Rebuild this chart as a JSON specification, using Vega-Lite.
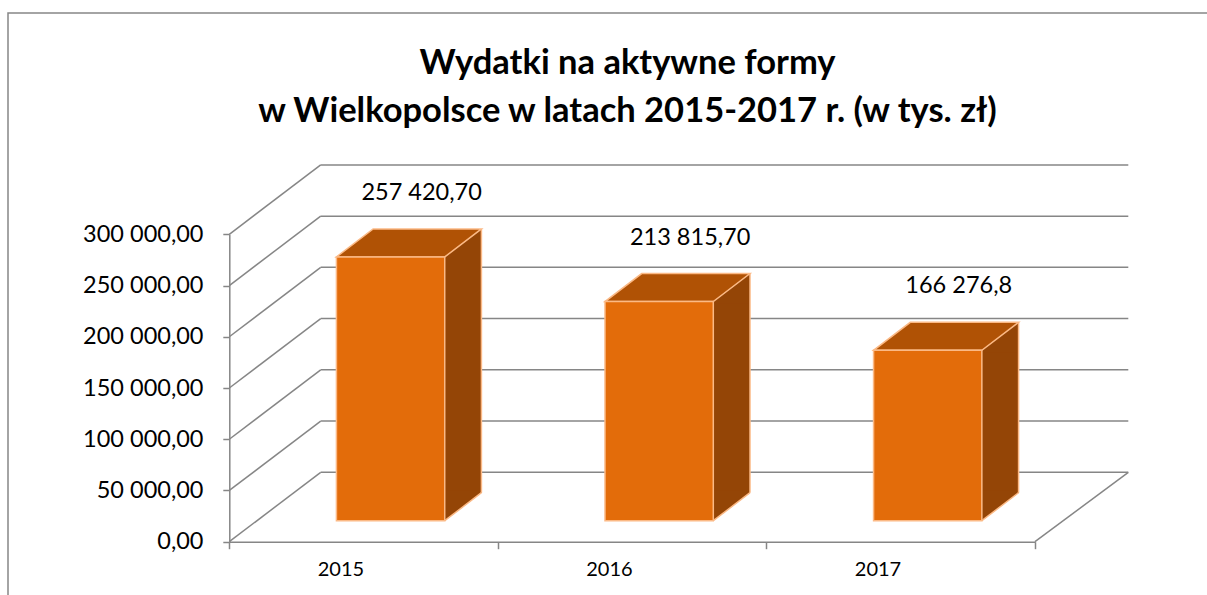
{
  "$schema": "https://vega.github.io/schema/vega-lite/v6.json",
  "width": 1215,
  "height": 600,
  "autosize": {"type": "none"},
  "padding": {"left": 8, "top": 13, "right": -16, "bottom": -18},
  "background": "white",
  "config": {"view": {"stroke": "#868686", "strokeWidth": 1.5}, "font": "Lato"},
  "title": {
    "text": ["Wydatki na aktywne formy", "w Wielkopolsce w latach 2015-2017 r. (w tys. zł)"],
    "font": "Lato", "fontSize": 34.5, "fontWeight": "bold", "color": "#000000",
    "anchor": "middle", "frame": "group", "lineHeight": 48, "offset": -116, "dx": 12
  },
  "data": {"values": [
    {"year": "2015", "value": 257420.7, "label": "257 420,70"},
    {"year": "2016", "value": 213815.7, "label": "213 815,70"},
    {"year": "2017", "value": 166276.8, "label": "166 276,8"}
  ]},
  "layer": [
    {
      "data": {"values": [{"v": 0}, {"v": 50000}, {"v": 100000}, {"v": 150000}, {"v": 200000}, {"v": 250000}, {"v": 300000}]},
      "mark": {"type": "rule", "color": "#868686", "strokeWidth": 1.5, "xOffset": 91.4, "x2Offset": 93.3, "yOffset": -69.4},
      "encoding": {
        "x": {"datum": "2015", "type": "nominal", "bandPosition": 0},
        "x2": {"datum": "2017", "bandPosition": 1},
        "y": {"field": "v", "type": "quantitative", "title": null}
      }
    },
    {
      "data": {"values": [{"v": 0}, {"v": 50000}, {"v": 100000}, {"v": 150000}, {"v": 200000}, {"v": 250000}, {"v": 300000}]},
      "mark": {"type": "rule", "color": "#868686", "strokeWidth": 1.5, "x2Offset": 91.4, "y2Offset": -69.4},
      "encoding": {
        "x": {"datum": "2015", "type": "nominal", "bandPosition": 0},
        "x2": {"datum": "2015", "bandPosition": 0},
        "y": {"field": "v", "type": "quantitative", "title": null},
        "y2": {"field": "v"}
      }
    },
    {
      "data": {"values": [{"edge": "right"}]},
      "mark": {"type": "rule", "color": "#868686", "strokeWidth": 1.5, "x2Offset": 93.3, "y2Offset": -69.4},
      "encoding": {
        "x": {"datum": "2017", "type": "nominal", "bandPosition": 1},
        "x2": {"datum": "2017", "bandPosition": 1},
        "y": {"datum": 0, "type": "quantitative"},
        "y2": {"datum": 0}
      }
    },
    {
      "mark": {"type": "bar", "width": 36.7, "xOffset": 99.5, "yOffset": -21, "y2Offset": -49, "color": "#944506"},
      "encoding": {
        "x": {"field": "year", "type": "nominal", "title": null},
        "y": {"field": "value", "type": "quantitative", "title": null},
        "y2": {"datum": 0}
      }
    },
    {
      "mark": {"type": "point", "shape": "M81.15,-21L117.85,-49L117.85,-19L81.15,-19Z", "size": 4, "filled": true, "fill": "#944506", "strokeWidth": 0, "opacity": 1},
      "encoding": {
        "x": {"field": "year", "type": "nominal", "title": null},
        "y": {"field": "value", "type": "quantitative", "title": null}
      }
    },
    {
      "mark": {"type": "point", "shape": "M81.15,-51L117.85,-51L117.85,-49L81.15,-21Z", "size": 4, "filled": true, "fill": "#944506", "strokeWidth": 0, "opacity": 1},
      "encoding": {
        "x": {"field": "year", "type": "nominal", "title": null},
        "y": {"datum": 0, "type": "quantitative"}
      }
    },
    {
      "mark": {"type": "rule", "color": "#FBB985", "strokeWidth": 1.5, "xOffset": 117.85, "x2Offset": 117.85, "yOffset": -49, "y2Offset": -49},
      "encoding": {
        "x": {"field": "year", "type": "nominal", "bandPosition": 0.5, "title": null},
        "x2": {"field": "year", "bandPosition": 0.5},
        "y": {"field": "value", "type": "quantitative", "title": null},
        "y2": {"datum": 0}
      }
    },
    {
      "mark": {"type": "rule", "color": "#FBB985", "strokeWidth": 1.5, "xOffset": 81.15, "x2Offset": 117.85, "yOffset": -21, "y2Offset": -49},
      "encoding": {
        "x": {"field": "year", "type": "nominal", "bandPosition": 0.5, "title": null},
        "x2": {"field": "year", "bandPosition": 0.5},
        "y": {"datum": 0, "type": "quantitative"},
        "y2": {"datum": 0}
      }
    },
    {
      "mark": {"type": "point", "shape": "M-27.15,-21L81.15,-21L117.85,-49L9.55,-49Z", "size": 4, "filled": true, "fill": "#B05205", "stroke": "#FBB985", "strokeWidth": 1.5, "opacity": 1},
      "encoding": {
        "x": {"field": "year", "type": "nominal", "title": null},
        "y": {"field": "value", "type": "quantitative", "title": null}
      }
    },
    {
      "mark": {"type": "bar", "width": 108.3, "xOffset": 27, "yOffset": -21, "y2Offset": -21, "color": "#E36C0A", "stroke": "#FBB985", "strokeWidth": 1.5},
      "encoding": {
        "x": {
          "field": "year", "type": "nominal",
          "scale": {"type": "band", "range": [221.3, 1027], "paddingInner": 0, "paddingOuter": 0},
          "axis": {"title": null, "labelAngle": 0, "tickBand": "extent", "tickSize": 7, "tickColor": "#868686", "tickWidth": 1.5, "domainColor": "#868686", "domainWidth": 1.5, "labelFont": "Lato", "labelFontSize": 20, "labelColor": "#000000", "labelPadding": 21, "labelBaseline": "middle", "offset": -71.3, "grid": false}
        },
        "y": {
          "field": "value", "type": "quantitative",
          "scale": {"domain": [0, 300000], "range": [528.7, 221.3], "nice": false, "zero": true},
          "axis": {"title": null, "values": [0, 50000, 100000, 150000, 200000, 250000, 300000], "labelExpr": "replace(replace(format(datum.value, ',.2f'), ',', ' '), '.', ',')", "tickSize": 6.5, "tickColor": "#868686", "tickWidth": 1.5, "domainColor": "#868686", "domainWidth": 1.5, "labelFont": "Lato", "labelFontSize": 23.5, "labelColor": "#000000", "labelPadding": 19.8, "offset": -221.3, "grid": false}
        },
        "y2": {"datum": 0}
      }
    },
    {
      "mark": {"type": "text", "dx": 58, "dy": -85, "fontSize": 23.5, "font": "Lato", "color": "#000000", "baseline": "middle", "align": "center"},
      "encoding": {
        "x": {"field": "year", "type": "nominal", "title": null},
        "y": {"field": "value", "type": "quantitative", "title": null},
        "text": {"field": "label"}
      }
    }
  ]
}
